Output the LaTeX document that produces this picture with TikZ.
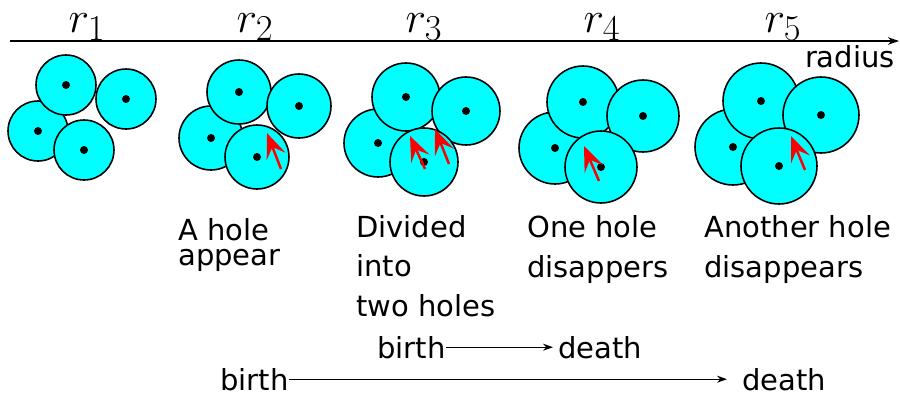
\documentclass[tikz,border=0pt]{standalone}
\usepackage{fontspec}
\setmainfont{DejaVu Sans}
\usetikzlibrary{arrows.meta}
\definecolor{ballcyan}{RGB}{0,255,255}
\definecolor{holered}{RGB}{255,0,0}
\begin{document}
\begin{tikzpicture}[x=0.02cm,y=-0.02cm,
  every node/.style={inner sep=0pt,font=\fontsize{16.5}{19}\selectfont},
  ball/.style={draw=black,line width=0.9pt,fill=ballcyan},
  centre/.style={fill=black},
  hole/.style={holered,line width=1.4pt,-{Stealth[length=0.5cm,width=0.4cm,inset=0.2cm]}},
  rlab/.style={anchor=base,font=\fontsize{29}{32}\selectfont},
  caption/.style={anchor=base west,align=left},
  pair/.style={anchor=base west}]
\useasboundingbox (0,0) rectangle (900,396);
% radius axis
\coordinate (ax0) at (10,41);
\coordinate (ax1) at (899,41);
\draw[line width=0.6pt,-{Stealth[length=0.22cm,width=0.15cm]}] (ax0) -- (ax1);
\node[anchor=base east] (rad) at (895,67) {radius};
\node[rlab] (r1) at (87,32) {$r_1$};
\node[rlab] (r2) at (255,32) {$r_2$};
\node[rlab] (r3) at (424,32) {$r_3$};
\node[rlab] (r4) at (602,32) {$r_4$};
\node[rlab] (r5) at (783,32) {$r_5$};
% four balls growing with the radius
\foreach \ox/\oy/\rad in {0/0/0.60,173/7/0.64,340/12/0.68,517/17/0.72,695/16/0.76}{
  \begin{scope}[shift={(\ox,\oy)}]
    \foreach \cx/\cy in {38/131,66/85,126/99,84/150}
      \draw[ball] (\cx,\cy) circle[radius=\rad cm];
    \foreach \cx/\cy in {38/131,66/85,126/99,84/150}
      \fill[centre] (\cx,\cy) circle[radius=0.08cm];
  \end{scope}
}
% holes
\draw[hole] (281,169) -- (267,133);
\draw[hole] (425,169) -- (410,136);
\draw[hole] (449,164) -- (435,129);
\draw[hole] (599,181) -- (584,146);
\draw[hole] (805,170) -- (791,136);
% what happens at each radius
\node[caption,font=\fontsize{16.5}{14.2}\selectfont] (c2) at (178,265) {A hole\\appear};
\node[caption,font=\fontsize{16.5}{22.4}\selectfont] (c3) at (356,316) {Divided\\into\\two holes};
\node[caption,font=\fontsize{16.5}{22.4}\selectfont] (c4) at (527,277) {One hole\\disappers};
\node[caption,font=\fontsize{16.5}{22.4}\selectfont] (c5) at (704,277) {Another hole\\disappears};
% life spans
\node[pair] (b1) at (377,358) {birth};
\node[pair] (d1) at (558,358) {death};
\node[pair] (b2) at (220,390) {birth};
\node[pair] (d2) at (742,390) {death};
\draw[line width=0.6pt,-{Stealth[length=0.2cm,width=0.14cm]},shorten >=0.1cm] (b1.east) -- (d1.west);
\draw[line width=0.6pt,-{Stealth[length=0.2cm,width=0.14cm]},shorten >=0.3cm] (b2.east) -- (d2.west);
\end{tikzpicture}
\end{document}
